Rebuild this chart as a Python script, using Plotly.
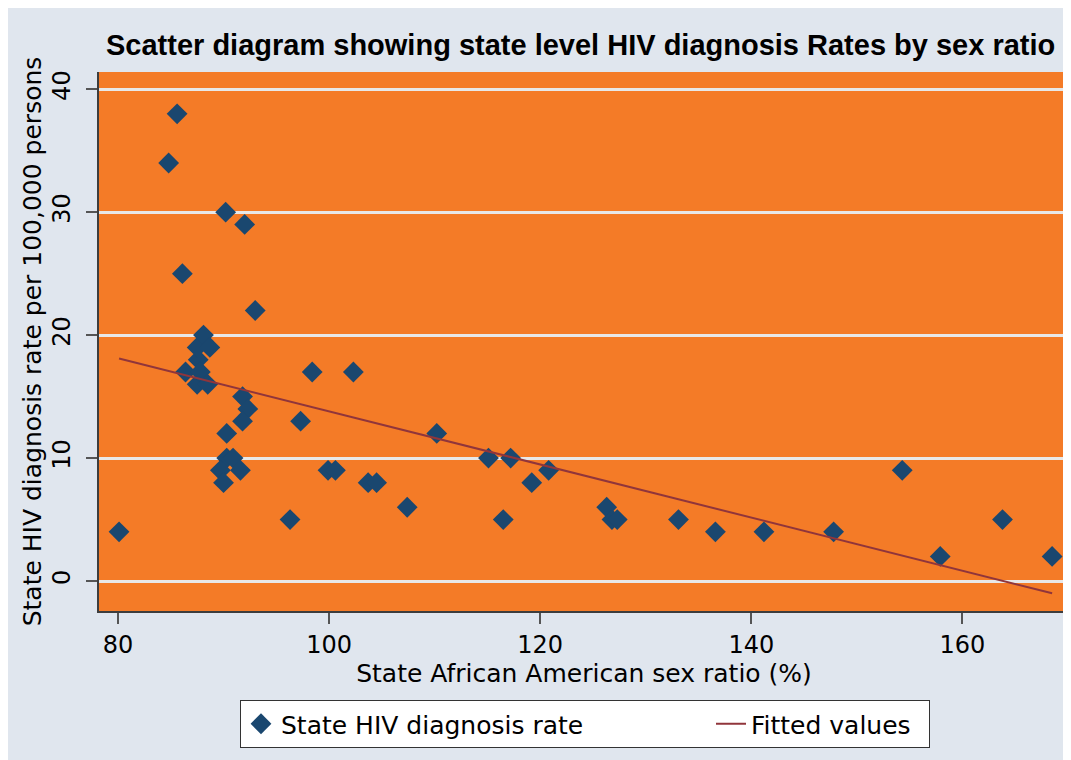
import plotly.graph_objects as go

sex_ratio = [80.1, 84.8, 85.6, 86.1, 86.4, 87.5, 87.6, 87.5, 88.1, 88.7, 87.8, 88.5,
             90.2, 92.0, 93.0, 91.8, 92.3, 91.8, 90.3, 90.3, 90.9, 89.7, 91.6, 90.0,
             96.3, 97.3, 98.4, 99.9, 100.6, 102.3, 103.7, 104.5, 107.4, 110.2, 115.1,
             116.5, 117.2, 119.2, 120.8, 126.3, 126.8, 127.3, 133.1, 136.6, 141.2,
             147.8, 154.3, 157.9, 163.8, 168.5]
hiv_rate = [4, 34, 38, 25, 17, 16, 18, 19, 20, 19, 17, 16,
            30, 29, 22, 15, 14, 13, 12, 10, 10, 9, 9, 8,
            5, 13, 17, 9, 9, 17, 8, 8, 6, 12, 10,
            5, 10, 8, 9, 6, 5, 5, 5, 4, 4,
            4, 9, 2, 5, 2]
fit_x = [80.1, 168.5]
fit_y = [18.1, -1.0]

x_ticks = [80, 100, 120, 140, 160]
y_ticks = [0, 10, 20, 30, 40]

BG = "#e0e6ee"
ORANGE = "#f47b27"
NAVY = "#1a476f"
MAROON = "#90353b"
LABEL_FONT = "DejaVu Sans"

W, H = 1063, 752          # page body adds an 8px offset
ML, MT, MR, MB = 91, 64, 2, 149
PW = W - ML - MR
PH = H - MT - MB

fig = go.Figure()
fig.add_trace(go.Scatter(
    x=sex_ratio, y=hiv_rate, mode="markers", name="State HIV diagnosis rate",
    marker=dict(symbol="diamond", size=16, color=NAVY, line=dict(width=0)),
    legendwidth=425,
))
fig.add_trace(go.Scatter(
    x=fit_x, y=fit_y, mode="lines", name="Fitted values",
    line=dict(color=MAROON, width=2),
    legendwidth=173,
))

fig.update_layout(
    width=W, height=H,
    margin=dict(l=ML, r=MR, t=MT, b=MB, pad=0),
    paper_bgcolor=BG, plot_bgcolor=ORANGE,
    title=dict(
        text="<b>Scatter diagram showing state level HIV diagnosis Rates by sex ratio</b>",
        font=dict(family="Liberation Sans", size=29, color="black"),
        x=(106 - 8) / W, xref="container", xanchor="left",
        y=1 - (45 - 8) / H, yref="container", yanchor="middle",
    ),
    xaxis=dict(
        range=[78.2, 170.1], tickvals=x_ticks, showgrid=False, zeroline=False,
        showline=True, linecolor="#3d3d3d", linewidth=2, automargin=False,
        ticks="outside", ticklen=11, tickwidth=2, tickcolor="#555555",
        tickfont=dict(family=LABEL_FONT, size=24, color="black"),
        title=dict(text="State African American sex ratio (%)",
                   font=dict(family=LABEL_FONT, size=25, color="black"), standoff=0),
    ),
    yaxis=dict(
        range=[-2.44, 41.4], tickvals=y_ticks, showgrid=True, gridcolor="#e8e8e8",
        gridwidth=2.5, zeroline=False, automargin=False,
        showline=True, linecolor="#3d3d3d", linewidth=2,
        ticks="outside", ticklen=11, tickwidth=2, tickcolor="#555555",
        tickangle=-90, ticklabelstandoff=6,
        tickfont=dict(family=LABEL_FONT, size=24, color="black"),
        title=dict(text="State HIV diagnosis rate per 100,000 persons",
                   font=dict(family=LABEL_FONT, size=25, color="black"), standoff=0),
    ),
    showlegend=True,
    legend=dict(
        orientation="h", x=(240 - 8 - ML) / PW, y=(603 - 692) / PH,
        xanchor="left", yanchor="top",
        bgcolor="white", bordercolor="#333333", borderwidth=1,
        font=dict(family=LABEL_FONT, size=25, color="black"),
        itemwidth=30,
    ),
)

fig.write_html("out.html")
